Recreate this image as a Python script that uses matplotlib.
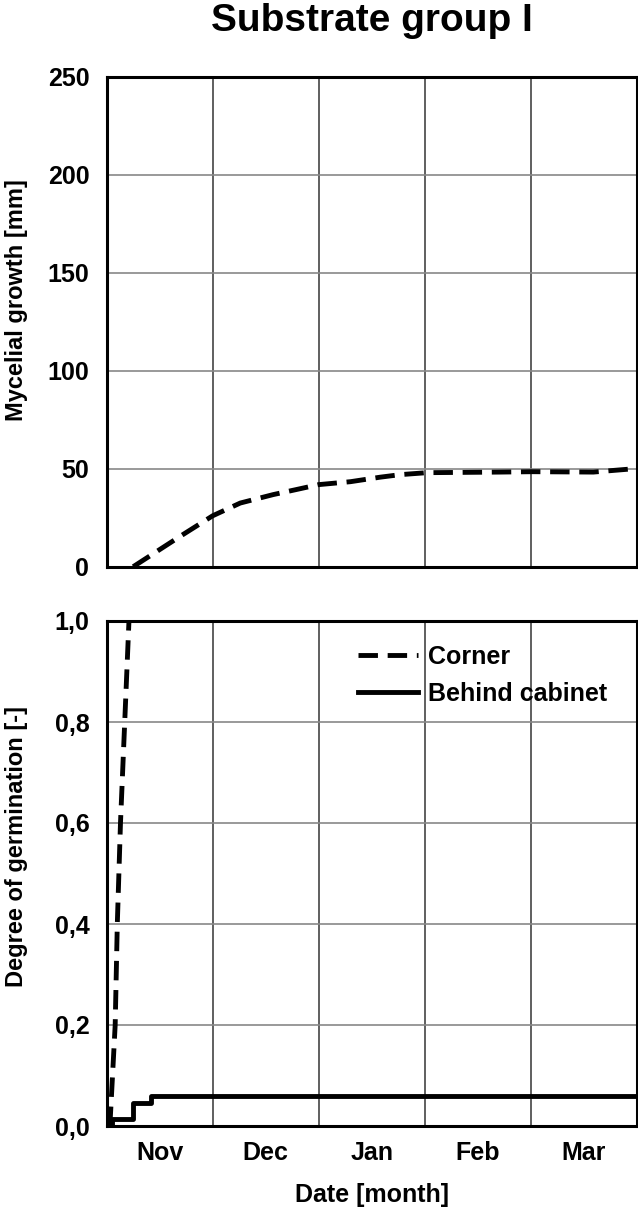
import matplotlib
matplotlib.use("Agg")
import matplotlib.pyplot as plt

plt.rcParams['font.family'] = ['Liberation Sans', 'DejaVu Sans']
plt.rcParams['font.weight'] = 'bold'

# x in months since 1 Nov
months = ['Nov', 'Dec', 'Jan', 'Feb', 'Mar']

# Mycelial growth, Corner [mm]
growth_x = [0.25, 0.47, 0.69, 1.0, 1.26, 1.57, 1.79, 2.0, 2.30, 2.58, 2.77, 3.02, 3.71, 4.02, 4.59, 4.97, 5.0]
growth_y = [0.0, 7.7, 15.4, 26.0, 32.5, 36.8, 39.4, 41.9, 43.4, 45.7, 47.0, 48.0, 48.3, 48.5, 48.3, 50.0, 50.0]

# Degree of germination [-]
corner_x = [0.03, 0.08, 0.10, 0.13, 0.17, 0.21]
corner_y = [0.0, 0.2, 0.4, 0.6, 0.8, 1.0]
cabinet_x = [0.0, 0.05, 0.25, 0.42, 5.0]
cabinet_y = [0.0, 0.014, 0.046, 0.06, 0.06]

W, H = 638, 1210
fig = plt.figure(figsize=(W / 100, H / 100), dpi=100)

def frac(x0, y0, x1, y1):
    return [x0 / W, 1 - y1 / H, (x1 - x0) / W, (y1 - y0) / H]

ax1 = fig.add_axes(frac(106.7, 77, 636.7, 566.7))
ax2 = fig.add_axes(frac(106.7, 621, 636.7, 1126))

for ax in (ax1, ax2):
    ax.set_xlim(0, 5)
    ax.set_xticks([0.5, 1.5, 2.5, 3.5, 4.5])
    ax.set_xticks([1, 2, 3, 4], minor=True)
    ax.grid(True, which='minor', axis='x', color='#444444', lw=1.2)
    ax.grid(True, which='major', axis='y', color='#888888', lw=1.2)
    ax.set_axisbelow(True)
    ax.tick_params(which='both', length=0, labelsize=18)
    ax.tick_params(axis='y', pad=12.5)
    ax.tick_params(axis='x', pad=10.5)
    for s in ax.spines.values():
        s.set_linewidth(2.2)
        s.set_color('black')

# top panel
ax1.plot(growth_x, growth_y, color='black', lw=3.5, ls=(0, (4, 2)))
ax1.set_ylim(0, 250)
ax1.set_yticks([0, 50, 100, 150, 200, 250])
ax1.set_xticklabels([])
ax1.set_ylabel('Mycelial growth [mm]', fontsize=17, fontweight='bold')
ax1.yaxis.set_label_coords(-0.148, 0.545)
ax1.set_title('Substrate group I', fontsize=28, fontweight='bold', pad=33)

# bottom panel
ax2.plot(corner_x, corner_y, color='black', lw=3.5, ls=(0, (4, 2)), label='Corner')
ax2.plot(cabinet_x, cabinet_y, color='black', lw=3.5, drawstyle='steps-post', label='Behind cabinet')
ax2.set_ylim(0, 1.0)
ax2.set_yticks([0, 0.2, 0.4, 0.6, 0.8, 1.0])
ax2.set_yticklabels(['0,0', '0,2', '0,4', '0,6', '0,8', '1,0'])
ax2.set_xticklabels(months)
ax2.set_ylabel('Degree of germination [-]', fontsize=17, fontweight='bold')
ax2.yaxis.set_label_coords(-0.148, 0.554)
ax2.set_xlabel('Date [month]', fontsize=18, fontweight='bold', labelpad=13)
ax2.legend(loc='upper left', bbox_to_anchor=(0.474, 0.952), frameon=False,
           fontsize=18, handlelength=2.4, handletextpad=0.4, labelspacing=0.5,
           borderaxespad=0, borderpad=0)

fig.savefig('out.png', dpi=100)
